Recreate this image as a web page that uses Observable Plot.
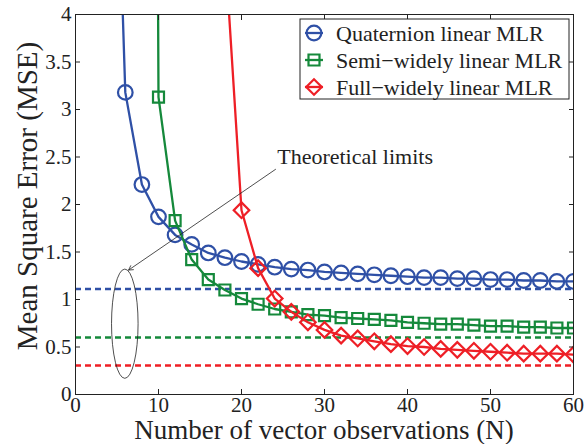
<!DOCTYPE html>
<html><head><meta charset="utf-8">
<script src="https://cdn.jsdelivr.net/npm/d3@7"></script>
<script src="https://cdn.jsdelivr.net/npm/@observablehq/plot@0.6"></script>
<style>
body{margin:0;background:#fff;}
#chart{position:relative;width:587px;height:444px;}
</style></head><body><div id="chart"></div>
<script>
// ---- data ----
const xTicks = [0, 10, 20, 30, 40, 50, 60];
const yTicks = [0, 0.5, 1, 1.5, 2, 2.5, 3, 3.5, 4];
const seriesNames = ["Quaternion linear MLR", "Semi\u2212widely linear MLR", "Full\u2212widely linear MLR"];
const xLabel = "Number of vector observations (N)";
const yLabel = "Mean Square Error (MSE)";
const annotationText = "Theoretical limits";

const quatN   = [4, 6, 8, 10, 12, 14, 16, 18, 20, 22, 24, 26, 28, 30, 32, 34, 36, 38, 40, 42, 44, 46, 48, 50, 52, 54, 56, 58, 60];
const quatMSE = [8.6, 3.18, 2.21, 1.87, 1.68, 1.58, 1.49, 1.44, 1.40, 1.37, 1.34, 1.32, 1.31, 1.29, 1.28, 1.27, 1.26, 1.25, 1.24, 1.23, 1.23, 1.22, 1.22, 1.21, 1.21, 1.20, 1.20, 1.19, 1.19];

const semiN   = [8, 10, 12, 14, 16, 18, 20, 22, 24, 26, 28, 30, 32, 34, 36, 38, 40, 42, 44, 46, 48, 50, 52, 54, 56, 58, 60];
const semiMSE = [40, 3.13, 1.83, 1.42, 1.21, 1.10, 1.01, 0.95, 0.90, 0.87, 0.84, 0.83, 0.81, 0.80, 0.79, 0.78, 0.76, 0.75, 0.74, 0.74, 0.73, 0.72, 0.72, 0.71, 0.71, 0.70, 0.70];

const fullN   = [18, 20, 22, 24, 26, 28, 30, 32, 34, 36, 38, 40, 42, 44, 46, 48, 50, 52, 54, 56, 58, 60];
const fullMSE = [4.7, 1.94, 1.33, 1.01, 0.87, 0.76, 0.68, 0.62, 0.59, 0.56, 0.53, 0.51, 0.50, 0.48, 0.47, 0.46, 0.45, 0.44, 0.43, 0.43, 0.43, 0.42];

const limits = [1.11, 0.60, 0.305];

// ---- styles ----
const colors = ["#2f50a6", "#15893b", "#ee1f26"];
const font = "'Liberation Serif','Times New Roman',serif";

const toRows = (N, v) => N.map((n, i) => ({N: n, mse: v[i]}));
const quat = toRows(quatN, quatMSE);
const semi = toRows(semiN, semiMSE);
const full = toRows(fullN, fullMSE);

const seriesMarks = (rows, color, symbol, r, rotate) => [
  Plot.line(rows, {x: "N", y: "mse", stroke: color, strokeWidth: 2.3, clip: true}),
  Plot.dot(rows, {x: "N", y: "mse", stroke: color, strokeWidth: 2.2, fill: "none", symbol, r, rotate, clip: true})
];

const plot = Plot.plot({
  width: 587, height: 444,
  marginLeft: 75, marginRight: 14, marginTop: 14, marginBottom: 50,
  style: {fontFamily: font, background: "#fff", color: "#222", overflow: "visible"},
  x: {domain: [0, 60]},
  y: {domain: [0, 4]},
  marks: [
    Plot.ruleY([limits[0]], {stroke: colors[0], strokeWidth: 2.5, strokeDasharray: "6,4"}),
    Plot.ruleY([limits[1]], {stroke: colors[1], strokeWidth: 2.5, strokeDasharray: "6,4"}),
    Plot.ruleY([limits[2]], {stroke: colors[2], strokeWidth: 2.5, strokeDasharray: "6,4"}),
    ...seriesMarks(quat, colors[0], "circle", 7.3, 0),
    ...seriesMarks(semi, colors[1], "square", 6.2, 0),
    ...seriesMarks(full, colors[2], "square", 6.2, 45),
    Plot.arrow([{x1: 24.1, y1: 2.37, x2: 6.4, y2: 1.31}], {x1: "x1", y1: "y1", x2: "x2", y2: "y2", stroke: "#222", strokeWidth: 0.8, headLength: 9, bend: 0}),
    Plot.text([annotationText], {x: () => 24.3, y: () => 2.5, text: d => d, textAnchor: "start", fontSize: 22, fill: "#222"}),
    Plot.frame({stroke: "#222", strokeWidth: 1}),
    Plot.axisX(xTicks, {anchor: "bottom", tickSize: 0, tickPadding: 3, fontSize: 21, label: null}),
    Plot.axisX(xTicks, {anchor: "bottom", tickSize: -5, fill: "none", label: null}),
    Plot.axisX(xTicks, {anchor: "top", tickSize: -5, fill: "none", label: null}),
    Plot.axisY(yTicks, {anchor: "left", tickSize: 0, tickPadding: 4, fontSize: 21, label: null, tickFormat: d => String(d)}),
    Plot.axisY(yTicks, {anchor: "left", tickSize: -5, fill: "none", label: null}),
    Plot.axisY(yTicks, {anchor: "right", tickSize: -5, fill: "none", label: null})
  ]
});

document.getElementById("chart").appendChild(plot);

// ---- labels, ellipse annotation and legend ----
const sx = plot.scale("x"), sy = plot.scale("y");
const svg = d3.select(plot);

svg.append("text").attr("x", 324).attr("y", 439)
  .attr("text-anchor", "middle").attr("font-size", 27).attr("font-family", font).attr("fill", "#222")
  .text(xLabel);
svg.append("text").attr("transform", "translate(37,196) rotate(-90)")
  .attr("text-anchor", "middle").attr("font-size", 29).attr("font-family", font).attr("fill", "#222")
  .text(yLabel);

const ecx = sx.apply(6), ecy = sy.apply(0.74);
svg.append("ellipse")
  .attr("cx", ecx).attr("cy", ecy)
  .attr("rx", sx.apply(6 + 1.6) - ecx)
  .attr("ry", sy.apply(0.74 - 0.575) - ecy)
  .attr("fill", "none").attr("stroke", "#222").attr("stroke-width", 0.8);

const lg = svg.append("g").attr("transform", "translate(300,19)");
lg.append("rect").attr("width", 269).attr("height", 80).attr("fill", "#fff").attr("stroke", "#222").attr("stroke-width", 1);
const symbols = [d3.symbolCircle, d3.symbolSquare, d3.symbolSquare];
const sizes = [7.3, 6.2, 6.2];
seriesNames.forEach((name, i) => {
  const y = 14 + i * 27;
  const g = lg.append("g").attr("transform", `translate(0,${y})`);
  g.append("line").attr("x1", 5).attr("x2", 23).attr("stroke", colors[i]).attr("stroke-width", 2.3);
  g.append("path")
    .attr("d", d3.symbol(symbols[i], Math.PI * sizes[i] * sizes[i])())
    .attr("transform", `translate(14,0) rotate(${i === 2 ? 45 : 0})`)
    .attr("fill", "none").attr("stroke", colors[i]).attr("stroke-width", 2.2);
  g.append("text").attr("x", 36).attr("dy", "0.35em").attr("font-size", 22)
    .attr("text-anchor", "start")
    .attr("font-family", font).attr("fill", "#222").text(name);
});
</script></body></html>
